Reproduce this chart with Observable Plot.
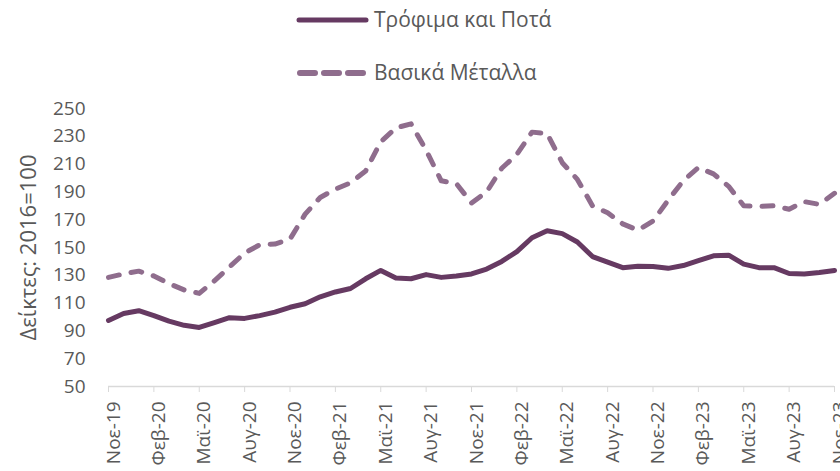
<!DOCTYPE html>
<html>
<head>
<meta charset="utf-8">
<script src="https://cdn.jsdelivr.net/npm/d3@7"></script>
<script src="https://cdn.jsdelivr.net/npm/@observablehq/plot@0.6"></script>
<style>
  html, body { margin: 0; padding: 0; background: #fff; }
  #wrap { width: 840px; height: 471px; overflow: hidden; font-family: "Open Sans", "Noto Sans", sans-serif; }
  #legend { display: block; }
</style>
</head>
<body>
<div id="wrap">
  <svg id="legend" width="840" height="92">
    <line x1="299" x2="366" y1="20" y2="20" stroke="#663a62" stroke-width="5" stroke-linecap="round"></line>
    <text x="374" y="20" dy="0.35em" font-size="21" fill="#595959" font-family="Open Sans, Noto Sans, sans-serif">Τρόφιμα και Ποτά</text>
    <line x1="300" x2="364" y1="73" y2="73" stroke="#8f6d8d" stroke-width="6" stroke-linecap="round" stroke-dasharray="15,9"></line>
    <text x="374" y="73" dy="0.35em" font-size="21" fill="#595959" font-family="Open Sans, Noto Sans, sans-serif">Βασικά Μέταλλα</text>
  </svg>
  <div id="chart"></div>
</div>
<script>
// Monthly index values, Nov-19 .. Nov-23 (2016=100)
const seriesNames = ["Τρόφιμα και Ποτά", "Βασικά Μέταλλα"];
const food = [97.5, 102.5, 104.5, 101, 97, 94, 92.5, 96, 99.5, 99, 101, 103.5,
  107, 109.5, 114.5, 118, 120.5, 127.5, 133.5, 128, 127.5, 130.5, 128.5, 129.5,
  131, 134.5, 140, 147, 157, 162, 160, 154, 143.5, 139.5, 135.5, 136.5,
  136.3, 135, 137, 140.5, 144, 144.5, 138, 135.5, 135.5, 131.3, 131, 132, 133.5];
const metals = [128.5, 131, 133, 129.5, 124, 119.5, 117, 126, 136, 146, 152, 152.5,
  156, 174, 186, 192, 196.5, 205, 226, 236, 239, 220, 198, 196,
  182, 190, 207, 217, 233, 232, 211, 199, 180, 175, 167, 162.5,
  169, 184, 198, 207.5, 203, 194, 180, 179.5, 180, 177.5, 183, 181, 189];
const xTickIndex = [0, 3, 6, 9, 12, 15, 18, 21, 24, 27, 30, 33, 36, 39, 42, 45, 48];
const xTickLabels = ["Νοε-19","Φεβ-20","Μαϊ-20","Αυγ-20","Νοε-20","Φεβ-21","Μαϊ-21","Αυγ-21",
  "Νοε-21","Φεβ-22","Μαϊ-22","Αυγ-22","Νοε-22","Φεβ-23","Μαϊ-23","Αυγ-23","Νοε-23"];
const yTicks = [50, 70, 90, 110, 130, 150, 170, 190, 210, 230, 250];
const yTitle = "Δείκτες: 2016=100";

const foodData = food.map((v, i) => ({i, v}));
const metalsData = metals.map((v, i) => ({i, v}));

const chart = Plot.plot({
  width: 840,
  height: 379,
  marginTop: 16,
  marginBottom: 85,
  marginLeft: 108,
  marginRight: 6,
  style: {fontFamily: "Open Sans, Noto Sans, sans-serif", background: "#fff", overflow: "visible"},
  x: {domain: [0, 48], axis: null},
  y: {domain: [50, 250], axis: null},
  marks: [
    Plot.axisY(yTicks, {tickSize: 0, tickPadding: 23, fontSize: 19, color: "#595959", label: null}),
    Plot.text([yTitle], {frameAnchor: "left", textAnchor: "middle", rotate: -90, dx: -80, fontSize: 22, fill: "#595959"}),
    Plot.ruleY([50], {stroke: "#d9d9d9", strokeWidth: 1.3}),
    Plot.axisX(xTickIndex, {tickSize: 6, tickFormat: () => "", stroke: "#d9d9d9", label: null}),
    Plot.axisX(xTickIndex, {
      tickSize: 0, tickRotate: -90, tickPadding: 15, fontSize: 19, dx: 5,
      tickFormat: (d) => xTickLabels[xTickIndex.indexOf(d)],
      fill: "#595959", label: null
    }),
    Plot.line(metalsData, {x: "i", y: "v", stroke: "#8f6d8d", strokeWidth: 5, strokeLinecap: "round", strokeLinejoin: "round", strokeDasharray: "11,12"}),
    Plot.line(foodData, {x: "i", y: "v", stroke: "#663a62", strokeWidth: 5, strokeLinejoin: "round"})
  ]
});
document.getElementById("chart").appendChild(chart);
</script>
</body>
</html>
